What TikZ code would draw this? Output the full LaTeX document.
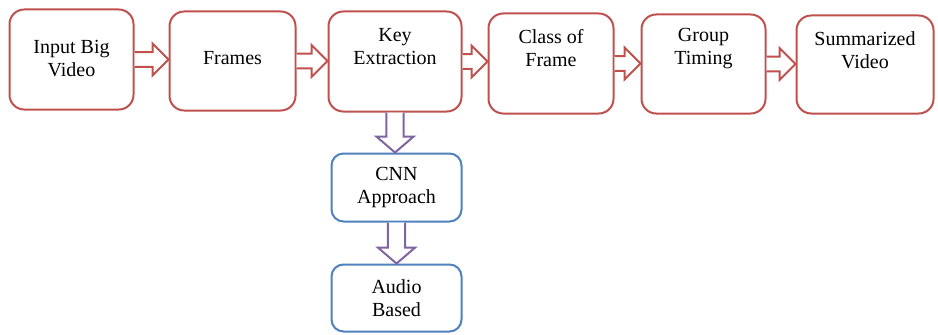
\documentclass[tikz,border=0pt]{standalone}
\usepackage{fontspec}
\setmainfont{Liberation Serif}
\newfontfamily\tnr{Liberation Serif}
\usetikzlibrary{calc}
\definecolor{boxred}{HTML}{C0504D}
\definecolor{boxblue}{HTML}{4F81BD}
\definecolor{arrpurple}{HTML}{8064A2}
\tikzset{
  redbox/.style={draw=boxred, line width=1.5pt, rounded corners=11pt, inner sep=0pt},
  bluebox/.style={draw=boxblue, line width=1.5pt, rounded corners=9pt, inner sep=0pt, align=center},
  lbl/.style={align=center, inner sep=0pt},
  harrow/.style={draw=boxred, line width=1.5pt, fill=white, line join=miter},
  varrow/.style={draw=arrpurple, line width=1.5pt, fill=white, line join=miter}
}
\newcommand\harr[2]{\draw[harrow] let \p1=(#1.east), \p2=(#2.west) in
  (\x1,\y1+5.6pt) -- (\x2-12pt,\y1+5.6pt) -- (\x2-12pt,\y1+12pt) -- (\x2,\y1)
  -- (\x2-12pt,\y1-12pt) -- (\x2-12pt,\y1-5.6pt) -- (\x1,\y1-5.6pt);}
\newcommand\varr[2]{\draw[varrow] let \p1=(#1.south), \p2=(#2.north) in
  (\x1-6.4pt,\y1) -- (\x1-6.4pt,\y2+12pt) -- (\x1-14pt,\y2+12pt) -- (\x1,\y2)
  -- (\x1+14pt,\y2+12pt) -- (\x1+6.4pt,\y2+12pt) -- (\x1+6.4pt,\y1);}
\begin{document}
\begin{tikzpicture}[x=0.75pt,y=-0.75pt, every node/.style={font=\tnr\fontsize{15pt}{17.25pt}\selectfont}]
\useasboundingbox[fill=white] (0,0) rectangle (938,335);
% labels first
\node[lbl] (t1) at (71.5,59) {Input Big\\Video};
\node[lbl] (t2) at (232.5,58) {Frames};
\node[lbl] (t3) at (395,47) {Key\\Extraction};
\node[lbl] (t4) at (551,48.5) {Class of\\Frame};
\node[lbl] (t5) at (703.5,48.5) {Group\\Timing};
\node[lbl] (t6) at (865,50) {Summarized\\Video};
% main row boxes
\node[redbox, minimum width=124*0.75pt, minimum height=100*0.75pt] (b1) at (71.5,59.5) {};
\node[redbox, minimum width=126*0.75pt, minimum height=99*0.75pt] (b2) at (232.5,61) {};
\node[redbox, minimum width=133*0.75pt, minimum height=100*0.75pt] (b3) at (395,61.5) {};
\node[redbox, minimum width=125*0.75pt, minimum height=100*0.75pt] (b4) at (551,63.5) {};
\node[redbox, minimum width=124*0.75pt, minimum height=99*0.75pt] (b5) at (703.5,64) {};
\node[redbox, minimum width=137*0.75pt, minimum height=98*0.75pt] (b6) at (865,64.5) {};
% lower boxes
\node[bluebox, minimum width=130*0.75pt, minimum height=68*0.75pt] (c1) at (396.5,187.5) {CNN\\Approach};
\node[bluebox, minimum width=130*0.75pt, minimum height=67*0.75pt] (c2) at (396.5,298) {Audio\\Based};
% arrows
\harr{b1}{b2}
\harr{b2}{b3}
\harr{b3}{b4}
\harr{b4}{b5}
\harr{b5}{b6}
\varr{b3}{c1}
\varr{c1}{c2}
\end{tikzpicture}
\end{document}
